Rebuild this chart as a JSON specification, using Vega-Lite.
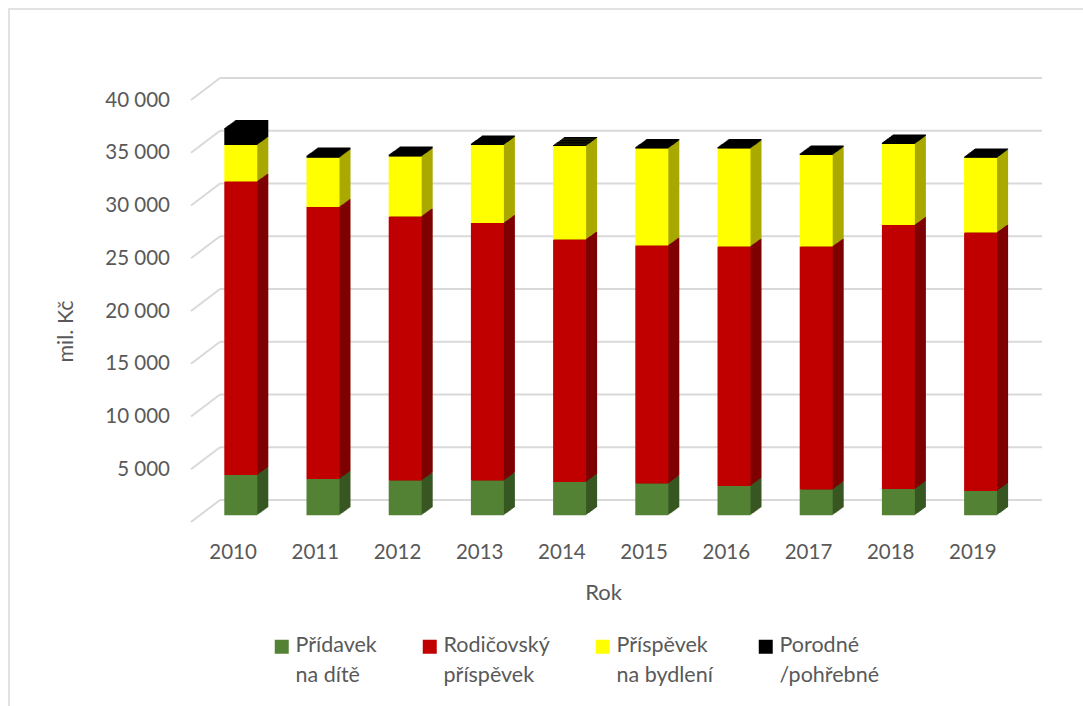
{"$schema":"https://vega.github.io/schema/vega-lite/v6.json","width":1077,"height":700,"padding":{"left":9,"top":9,"right":-3,"bottom":-3},"autosize":{"type":"none"},"background":"white","view":{"stroke":"#d9d9d9","strokeWidth":1.5},"config":{"font":"Lato"},
"data":{"values":[
{"year":2010,"series":"Přídavek na dítě","rank":1,"value":3820},{"year":2010,"series":"Rodičovský příspěvek","rank":2,"value":27820},{"year":2010,"series":"Příspěvek na bydlení","rank":3,"value":3460},{"year":2010,"series":"Porodné /pohřebné","rank":4,"value":1610},
{"year":2011,"series":"Přídavek na dítě","rank":1,"value":3440},{"year":2011,"series":"Rodičovský příspěvek","rank":2,"value":25780},{"year":2011,"series":"Příspěvek na bydlení","rank":3,"value":4680},{"year":2011,"series":"Porodné /pohřebné","rank":4,"value":200},
{"year":2012,"series":"Přídavek na dítě","rank":1,"value":3300},{"year":2012,"series":"Rodičovský příspěvek","rank":2,"value":25030},{"year":2012,"series":"Příspěvek na bydlení","rank":3,"value":5680},{"year":2012,"series":"Porodné /pohřebné","rank":4,"value":190},
{"year":2013,"series":"Přídavek na dítě","rank":1,"value":3300},{"year":2013,"series":"Rodičovský příspěvek","rank":2,"value":24400},{"year":2013,"series":"Příspěvek na bydlení","rank":3,"value":7400},{"year":2013,"series":"Porodné /pohřebné","rank":4,"value":140},
{"year":2014,"series":"Přídavek na dítě","rank":1,"value":3160},{"year":2014,"series":"Rodičovský příspěvek","rank":2,"value":22980},{"year":2014,"series":"Příspěvek na bydlení","rank":3,"value":8860},{"year":2014,"series":"Porodné /pohřebné","rank":4,"value":100},
{"year":2015,"series":"Přídavek na dítě","rank":1,"value":3010},{"year":2015,"series":"Rodičovský příspěvek","rank":2,"value":22560},{"year":2015,"series":"Příspěvek na bydlení","rank":3,"value":9200},{"year":2015,"series":"Porodné /pohřebné","rank":4,"value":140},
{"year":2016,"series":"Přídavek na dítě","rank":1,"value":2780},{"year":2016,"series":"Rodičovský příspěvek","rank":2,"value":22700},{"year":2016,"series":"Příspěvek na bydlení","rank":3,"value":9290},{"year":2016,"series":"Porodné /pohřebné","rank":4,"value":140},
{"year":2017,"series":"Přídavek na dítě","rank":1,"value":2450},{"year":2017,"series":"Rodičovský příspěvek","rank":2,"value":23030},{"year":2017,"series":"Příspěvek na bydlení","rank":3,"value":8670},{"year":2017,"series":"Porodné /pohřebné","rank":4,"value":150},
{"year":2018,"series":"Přídavek na dítě","rank":1,"value":2490},{"year":2018,"series":"Rodičovský příspěvek","rank":2,"value":25020},{"year":2018,"series":"Příspěvek na bydlení","rank":3,"value":7680},{"year":2018,"series":"Porodné /pohřebné","rank":4,"value":150},
{"year":2019,"series":"Přídavek na dítě","rank":1,"value":2300},{"year":2019,"series":"Rodičovský příspěvek","rank":2,"value":24500},{"year":2019,"series":"Příspěvek na bydlení","rank":3,"value":7080},{"year":2019,"series":"Porodné /pohřebné","rank":4,"value":140}
]},
"datasets":{"ticks":[{"tick":0},{"tick":5000},{"tick":10000},{"tick":15000},{"tick":20000},{"tick":25000},{"tick":30000},{"tick":35000},{"tick":40000}]},
"resolve":{"scale":{"color":"independent"}},
"encoding":{
"x":{"field":"year","type":"ordinal","scale":{"range":[183,1005],"paddingInner":0,"paddingOuter":0},"axis":{"title":"Rok","labelAngle":0,"domain":false,"ticks":false,"grid":false,"labelFontSize":20.5,"labelColor":"#595959","labelFont":"Lato","labelPadding":7,"offset":-174,"titleFontSize":22,"titleFontWeight":"normal","titleColor":"#595959","titleFont":"Lato","titleX":594,"titleY":57,"titleBaseline":"middle","titleAnchor":null}}
},
"layer":[
{"data":{"name":"ticks"},"mark":{"type":"rule","stroke":"#d9d9d9","strokeWidth":2,"yOffset":-22},"encoding":{"x":{"value":211},"x2":{"value":1033},"y":{"field":"tick","type":"quantitative","scale":{"domain":[0,40000],"range":[513,91],"nice":false,"zero":false},"axis":{"title":"mil. Kč","values":[0,5000,10000,15000,20000,25000,30000,35000,40000],"labelExpr":"datum.value==0?'':replace(format(datum.value,','),',',' ')","domain":false,"ticks":false,"grid":false,"labelFontSize":20.5,"labelColor":"#595959","labelFont":"Lato","labelPadding":0,"offset":-160.5,"titleFontSize":21.5,"titleFontWeight":"normal","titleColor":"#595959","titleFont":"Lato","titleX":-103.5,"titleY":322,"titleAngle":270,"titleBaseline":"middle","titleAlign":"center"}}}},
{"data":{"name":"ticks"},"mark":{"type":"point","shape":"M-1 0.76L1 -0.76","size":841,"filled":false,"stroke":"#d9d9d9","strokeWidth":2,"opacity":1,"yOffset":-11},"encoding":{"x":{"value":196.5},"y":{"field":"tick","type":"quantitative"}}},
{"mark":{"type":"bar","size":33,"xOffset":18.7,"yOffset":-14.7},"encoding":{"y":{"field":"value","type":"quantitative","stack":"zero"},"order":{"field":"rank"},"color":{"field":"series","type":"nominal","legend":null,"scale":{"domain":["Přídavek na dítě","Rodičovský příspěvek","Příspěvek na bydlení","Porodné /pohřebné"],"range":["#385723","#7f0000","#a9a900","#000000"]}}}},
{"mark":{"type":"bar","size":33,"xOffset":17.7,"yOffset":-14},"encoding":{"y":{"field":"value","type":"quantitative","stack":"zero"},"order":{"field":"rank"},"color":{"field":"series","type":"nominal","legend":null,"scale":{"domain":["Přídavek na dítě","Rodičovský příspěvek","Příspěvek na bydlení","Porodné /pohřebné"],"range":["#385723","#7f0000","#a9a900","#000000"]}}}},
{"mark":{"type":"bar","size":33,"xOffset":16.7,"yOffset":-13.3},"encoding":{"y":{"field":"value","type":"quantitative","stack":"zero"},"order":{"field":"rank"},"color":{"field":"series","type":"nominal","legend":null,"scale":{"domain":["Přídavek na dítě","Rodičovský příspěvek","Příspěvek na bydlení","Porodné /pohřebné"],"range":["#385723","#7f0000","#a9a900","#000000"]}}}},
{"mark":{"type":"bar","size":33,"xOffset":15.7,"yOffset":-12.5},"encoding":{"y":{"field":"value","type":"quantitative","stack":"zero"},"order":{"field":"rank"},"color":{"field":"series","type":"nominal","legend":null,"scale":{"domain":["Přídavek na dítě","Rodičovský příspěvek","Příspěvek na bydlení","Porodné /pohřebné"],"range":["#385723","#7f0000","#a9a900","#000000"]}}}},
{"mark":{"type":"bar","size":33,"xOffset":14.7,"yOffset":-11.8},"encoding":{"y":{"field":"value","type":"quantitative","stack":"zero"},"order":{"field":"rank"},"color":{"field":"series","type":"nominal","legend":null,"scale":{"domain":["Přídavek na dítě","Rodičovský příspěvek","Příspěvek na bydlení","Porodné /pohřebné"],"range":["#385723","#7f0000","#a9a900","#000000"]}}}},
{"mark":{"type":"bar","size":33,"xOffset":13.7,"yOffset":-11},"encoding":{"y":{"field":"value","type":"quantitative","stack":"zero"},"order":{"field":"rank"},"color":{"field":"series","type":"nominal","legend":null,"scale":{"domain":["Přídavek na dítě","Rodičovský příspěvek","Příspěvek na bydlení","Porodné /pohřebné"],"range":["#385723","#7f0000","#a9a900","#000000"]}}}},
{"mark":{"type":"bar","size":33,"xOffset":12.7,"yOffset":-10.3},"encoding":{"y":{"field":"value","type":"quantitative","stack":"zero"},"order":{"field":"rank"},"color":{"field":"series","type":"nominal","legend":null,"scale":{"domain":["Přídavek na dítě","Rodičovský příspěvek","Příspěvek na bydlení","Porodné /pohřebné"],"range":["#385723","#7f0000","#a9a900","#000000"]}}}},
{"mark":{"type":"bar","size":33,"xOffset":11.7,"yOffset":-9.6},"encoding":{"y":{"field":"value","type":"quantitative","stack":"zero"},"order":{"field":"rank"},"color":{"field":"series","type":"nominal","legend":null,"scale":{"domain":["Přídavek na dítě","Rodičovský příspěvek","Příspěvek na bydlení","Porodné /pohřebné"],"range":["#385723","#7f0000","#a9a900","#000000"]}}}},
{"mark":{"type":"bar","size":33,"xOffset":10.7,"yOffset":-8.9},"encoding":{"y":{"field":"value","type":"quantitative","stack":"zero"},"order":{"field":"rank"},"color":{"field":"series","type":"nominal","legend":null,"scale":{"domain":["Přídavek na dítě","Rodičovský příspěvek","Příspěvek na bydlení","Porodné /pohřebné"],"range":["#385723","#7f0000","#a9a900","#000000"]}}}},
{"mark":{"type":"bar","size":33,"xOffset":9.7,"yOffset":-8.2},"encoding":{"y":{"field":"value","type":"quantitative","stack":"zero"},"order":{"field":"rank"},"color":{"field":"series","type":"nominal","legend":null,"scale":{"domain":["Přídavek na dítě","Rodičovský příspěvek","Příspěvek na bydlení","Porodné /pohřebné"],"range":["#385723","#7f0000","#a9a900","#000000"]}}}},
{"mark":{"type":"bar","size":33,"xOffset":8.7,"yOffset":-7.4},"encoding":{"y":{"field":"value","type":"quantitative","stack":"zero"},"order":{"field":"rank"},"color":{"field":"series","type":"nominal","legend":null,"scale":{"domain":["Přídavek na dítě","Rodičovský příspěvek","Příspěvek na bydlení","Porodné /pohřebné"],"range":["#385723","#7f0000","#a9a900","#000000"]}}}},
{"mark":{"type":"bar","size":33,"xOffset":7.7,"yOffset":-6.7},"encoding":{"y":{"field":"value","type":"quantitative","stack":"zero"},"order":{"field":"rank"},"color":{"field":"series","type":"nominal","scale":{"domain":["Přídavek na dítě","Rodičovský příspěvek","Příspěvek na bydlení","Porodné /pohřebné"],"range":["#548235","#c00000","#ffff00","#000000"]},"legend":{"orient":"none","legendX":262,"legendY":627,"direction":"horizontal","columns":4,"gridAlign":"none","columnPadding":42,"title":null,"padding":0,"symbolType":"square","symbolSize":196,"symbolStrokeWidth":0,"labelFontSize":21.5,"labelFont":"Lato","labelColor":"#595959","labelOffset":3,"labelLimit":300,"labelBaseline":"top","labelExpr":"[slice(datum.label,0,indexof(datum.label,' ')),slice(datum.label,indexof(datum.label,' ')+1)]","encode":{"labels":{"update":{"dy":{"value":-12},"lineHeight":{"value":30}}}}}}}}
]}
